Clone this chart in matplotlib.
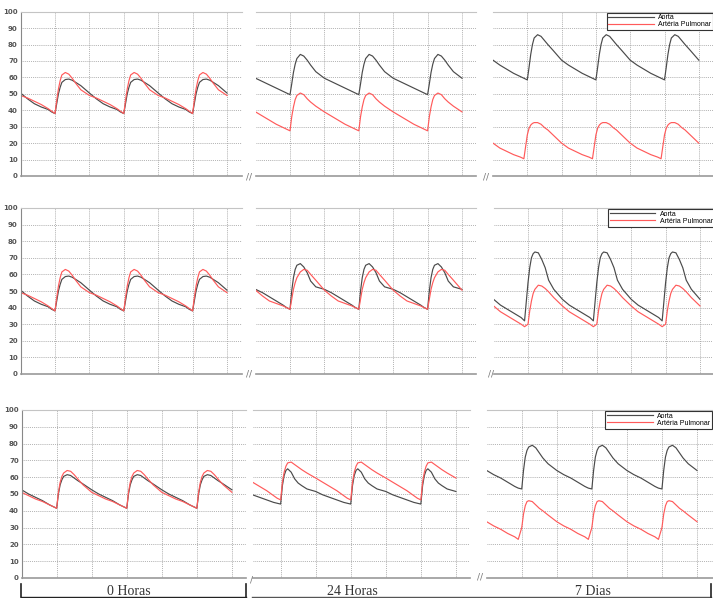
import matplotlib
matplotlib.use("Agg")
import matplotlib.pyplot as plt
from matplotlib.lines import Line2D

# phase within one cardiac cycle (in grid units, upstroke at 0, period 2)
PHASE = [0, 0.05, 0.1, 0.15, 0.2, 0.3, 0.4, 0.5, 0.6, 0.75, 1.0, 1.2, 1.4, 1.6, 1.8, 1.9]
CYCLE_STARTS = [-1, 1, 3, 5]

# 0 Horas (rows 1 and 2 look the same)
h0_aorta = [38, 44, 50, 54, 57, 58.7, 59, 58.3, 57, 55, 50.5, 47, 44, 42, 40.5, 39]
h0_pulm = [38, 46, 53, 58, 61.5, 63, 62, 59.5, 56.5, 52.5, 49, 47.5, 45.5, 43.5, 41, 39.5]

# row 1
r1_24h_aorta = [49.5, 56, 63, 68, 71.5, 74, 73, 70.5, 67.5, 63.5, 59.5, 57.5, 55.5, 53.5, 51.5, 50.5]
r1_24h_pulm = [27.5, 36, 42, 46.5, 49, 50.5, 49.5, 47, 45, 42.5, 39, 36.5, 34, 31.5, 29.5, 28.5]
r1_7d_aorta = [58.5, 66, 74, 80, 84, 86, 85, 82.5, 80, 76.5, 70.5, 67.5, 65, 62.5, 60.5, 59.5]
r1_7d_pulm = [25, 29, 31, 32, 32.5, 32.5, 31.5, 29.5, 28, 25, 20, 17, 15, 13, 11.5, 10.5]

# row 2
r2_24h_aorta = [39, 50, 58, 63, 65.5, 66.5, 64.5, 61, 56, 52.5, 51, 49, 46.5, 44, 41.5, 40]
r2_24h_pulm = [39, 45, 51, 55, 58, 61.5, 63, 62.5, 60, 56.5, 50.5, 47, 44, 42.5, 41, 40]
r2_7d_aorta = [55, 64, 70, 72.5, 73.5, 73, 69, 64, 56.5, 51, 45, 41.5, 39, 36.5, 34, 32]
r2_7d_pulm = [30, 38, 44, 48.5, 51, 53.5, 53, 51.5, 49.5, 46, 41, 37.5, 35, 32.5, 30, 28.5]

# row 3
r3_0h_aorta = [41.5, 50, 55.5, 58.5, 60.5, 61.5, 61, 59.5, 58, 56, 52.5, 50, 48, 46, 43.5, 42.5]
r3_0h_pulm = [41.5, 51, 57, 60.5, 62.5, 64, 63.5, 61.5, 59, 55.5, 51, 49, 47, 45.5, 43.5, 42.5]
r3_24h_aorta = [44, 55, 61, 64, 65, 63, 59, 56.5, 55, 53, 51.5, 49.5, 48, 46.5, 45, 44.5]
r3_24h_pulm = [46.5, 57, 63, 66.5, 68.5, 69, 67.5, 66, 64.5, 62.5, 59.5, 57, 54.5, 52, 49, 47.5]
r3_7d_aorta = [53, 64, 72, 76, 78, 79, 77.5, 74.5, 71.5, 68, 64, 61.5, 59.5, 57, 54.5, 53.5]
r3_7d_pulm = [30, 38, 43, 45.5, 46, 45.5, 43.5, 41.5, 40, 37.5, 33.5, 31, 29, 26.5, 24.5, 23]

labels = ["Aorta", "Artéria Pulmonar"]
group_labels = ["0 Horas", "24 Horas", "7 Dias"]
yticks = list(range(0, 101, 10))

W, H = 713, 598
fig = plt.figure(figsize=(W / 100, H / 100), dpi=100)

AORTA_C = "#4a4a4a"
PULM_C = "#ff5a5a"
GRID_C = "#9a9a9a"


def build(vals, xmin):
    xs, ys = [], []
    for s in CYCLE_STARTS:
        for p, v in zip(PHASE, vals):
            x = s + p
            if xmin - 0.05 <= x <= 6 + 1e-9:
                xs.append(x)
                ys.append(v)
    return xs, ys


def panel(x0_px, unit, top_px, bot_px, xmin, xmax, aorta, pulm, first=False, legend=False):
    left = x0_px + xmin * unit
    width = (xmax - xmin) * unit
    ax = fig.add_axes([left / W, 1 - bot_px / H, width / W, (bot_px - top_px) / H])
    ax.set_xlim(xmin, xmax)
    ax.set_ylim(0, 100)
    ax.set_xticks([1, 2, 3, 4, 5, 6])
    ax.set_yticks(yticks)
    ax.grid(True, color=GRID_C, linestyle=(0, (1, 1.3)), linewidth=0.6)
    ax.tick_params(length=0, labelbottom=False, labelleft=first, pad=2,
                   labelsize=5, labelcolor="#555555")
    for lab in ax.get_yticklabels():
        lab.set_fontweight("bold")
    ax.spines["right"].set_visible(False)
    ax.spines["left"].set_visible(first)
    ax.spines["left"].set_color("#888888")
    ax.spines["bottom"].set_color("#999999")
    ax.spines["bottom"].set_linewidth(1.2)
    ax.spines["top"].set_color("#c4c4c4")
    ax.spines["top"].set_linewidth(0.8)
    xa, ya = build(aorta, xmin)
    xp, yp = build(pulm, xmin)
    ax.plot(xa, ya, color=AORTA_C, lw=0.85, label=labels[0])
    ax.plot(xp, yp, color=PULM_C, lw=0.85, label=labels[1])
    if legend:
        leg = ax.legend(loc="upper right", prop={"family": "Liberation Sans", "size": 5},
                        handlelength=6.6, fancybox=False, edgecolor="#333333",
                        framealpha=1, borderaxespad=0.15, borderpad=0.25,
                        labelspacing=0.0, handletextpad=0.6)
        leg.get_frame().set_linewidth(0.8)
    return ax


# row 1
panel(20.6, 34.4, 11.7, 176, 0, 6.45, h0_aorta, h0_pulm, first=True)
panel(255.6, 34.4, 11.7, 176, 0, 6.4, r1_24h_aorta, r1_24h_pulm)
panel(493, 34.3, 11.7, 176, 0, 6.45, r1_7d_aorta, r1_7d_pulm, legend=True)
# row 2
panel(20.6, 34.4, 208, 374, 0, 6.45, h0_aorta, h0_pulm, first=True)
panel(255.6, 34.4, 208, 374, 0, 6.4, r2_24h_aorta, r2_24h_pulm)
panel(493.6, 34.4, 208, 374, 0, 6.45, r2_7d_aorta, r2_7d_pulm, legend=True)
# row 3
panel(21.6, 35.05, 410, 578, 0, 6.4, r3_0h_aorta, r3_0h_pulm, first=True)
panel(245.6, 35.05, 410, 578, 0.21, 6.4, r3_24h_aorta, r3_24h_pulm)
panel(486.7, 35.05, 410, 578, 0, 6.45, r3_7d_aorta, r3_7d_pulm, legend=True)

# overlay in pixel coordinates for the break marks and the brackets
ov = fig.add_axes([0, 0, 1, 1])
ov.set_xlim(0, W)
ov.set_ylim(H, 0)
ov.axis("off")

for (bx, by) in [(249, 177), (486, 177), (249, 374), (491, 374), (480, 577)]:
    ov.text(bx, by, "//", fontsize=6.5, color="#777777", ha="center", va="center")
ov.text(251, 580, "/", fontsize=6.5, color="#777777", ha="center", va="center")

ink = "#222222"
ov.add_line(Line2D([21, 246], [597, 597], color=ink, lw=1.0))
ov.add_line(Line2D([21, 21], [584, 597], color=ink, lw=1.2))
ov.add_line(Line2D([246, 246], [584, 597], color=ink, lw=1.2))
ov.add_line(Line2D([252, 711], [597, 597], color="#555555", lw=1.0))
ov.add_line(Line2D([711, 711], [584, 597], color=ink, lw=1.2))

for cx, txt in zip([129, 352, 593], group_labels):
    ov.text(cx, 595, txt, fontsize=10, family="Liberation Serif", color="#333333",
            ha="center", va="baseline")

fig.savefig("out.png", dpi=100)
